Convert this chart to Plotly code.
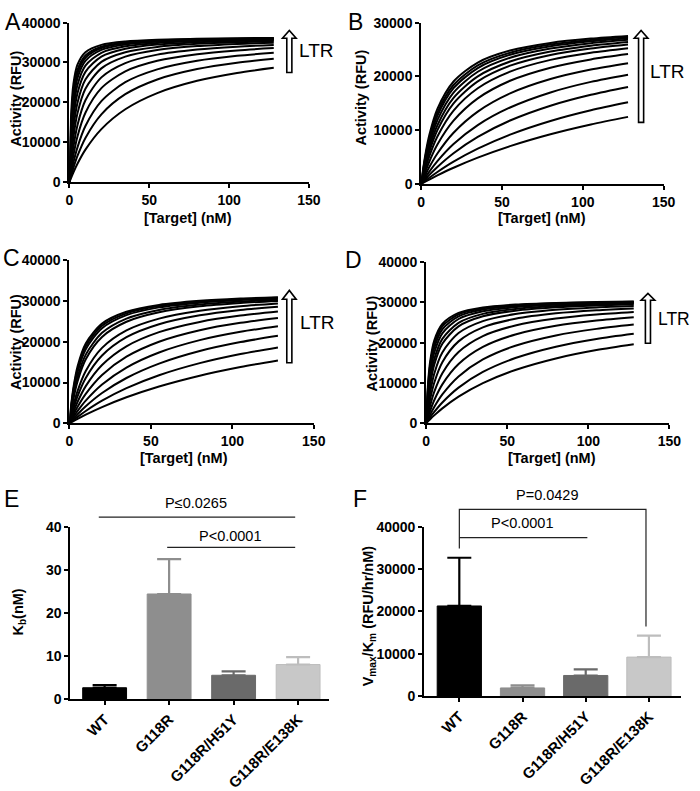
import plotly.graph_objects as go

W, H = 700, 791

# ---------------- data ----------------
TARGET_NM = [0, 1, 2.5, 5, 10, 20, 35, 55, 80, 105, 128]

# Activity (kRFU) at each TARGET_NM value, one list per LTR concentration
A_CURVES = [
    [0, 1.01, 2.43, 4.56, 8.11, 13.27, 18.25, 22.31, 25.39, 27.38, 28.66],
    [0, 1.52, 3.58, 6.52, 11.06, 16.98, 22.03, 25.74, 28.35, 29.94, 30.94],
    [0, 2.15, 4.93, 8.69, 14.04, 20.28, 25.05, 28.27, 30.42, 31.67, 32.44],
    [0, 3.04, 6.76, 11.41, 17.38, 23.55, 27.77, 30.42, 32.09, 33.04, 33.61],
    [0, 4.15, 8.86, 14.26, 20.51, 26.26, 29.85, 31.97, 33.26, 33.98, 34.40],
    [0, 5.53, 11.27, 17.22, 23.40, 28.52, 31.47, 33.13, 34.11, 34.65, 34.97],
    [0, 7.02, 13.62, 19.84, 25.70, 30.17, 32.59, 33.91, 34.68, 35.10, 35.34],
    [0, 8.69, 16.01, 22.26, 27.65, 31.47, 33.44, 34.49, 35.10, 35.42, 35.61],
    [0, 10.43, 18.25, 24.33, 29.20, 32.44, 34.07, 34.91, 35.39, 35.65, 35.80],
    [0, 12.17, 20.28, 26.07, 30.42, 33.18, 34.53, 35.22, 35.61, 35.82, 35.94],
    [0, 13.52, 21.73, 27.24, 31.20, 33.64, 34.81, 35.41, 35.74, 35.92, 36.02],
    [0, 14.60, 22.81, 28.08, 31.74, 33.95, 35.00, 35.53, 35.83, 35.99, 36.08],
    [0, 16.59, 24.66, 29.44, 32.59, 34.43, 35.29, 35.72, 35.96, 36.09, 36.16],
]
B_CURVES = [
    [0, 0.17, 0.41, 0.81, 1.58, 3.00, 4.88, 7.02, 9.23, 11.05, 12.47],
    [0, 0.24, 0.59, 1.15, 2.22, 4.14, 6.56, 9.17, 11.71, 13.70, 15.18],
    [0, 0.35, 0.86, 1.67, 3.16, 5.71, 8.75, 11.79, 14.55, 16.58, 18.03],
    [0, 0.48, 1.18, 2.27, 4.23, 7.41, 10.94, 14.22, 17.02, 18.98, 20.32],
    [0, 0.68, 1.65, 3.13, 5.66, 9.52, 13.46, 16.84, 19.51, 21.28, 22.46],
    [0, 0.94, 2.24, 4.17, 7.32, 11.76, 15.91, 19.19, 21.62, 23.16, 24.15],
    [0, 1.20, 2.83, 5.17, 8.82, 13.64, 17.80, 20.89, 23.08, 24.42, 25.26],
    [0, 1.43, 3.33, 6.00, 10.00, 15.00, 19.09, 22.00, 24.00, 25.20, 25.95],
    [0, 1.62, 3.75, 6.67, 10.91, 16.00, 20.00, 22.76, 24.62, 25.71, 26.39],
    [0, 1.84, 4.21, 7.39, 11.86, 17.00, 20.87, 23.47, 25.18, 26.18, 26.80],
    [0, 2.04, 4.63, 8.02, 12.66, 17.80, 21.56, 24.02, 25.61, 26.54, 27.10],
    [0, 2.21, 4.97, 8.52, 13.27, 18.40, 22.06, 24.41, 25.92, 26.79, 27.31],
    [0, 2.40, 5.36, 9.09, 13.95, 19.05, 22.58, 24.81, 26.23, 27.04, 27.53],
]
C_CURVES = [
    [0, 0.22, 0.56, 1.09, 2.12, 3.98, 6.38, 9.03, 11.68, 13.80, 15.42],
    [0, 0.33, 0.81, 1.59, 3.03, 5.55, 8.62, 11.79, 14.75, 16.99, 18.61],
    [0, 0.47, 1.15, 2.23, 4.18, 7.42, 11.11, 14.64, 17.72, 19.91, 21.44],
    [0, 0.65, 1.59, 3.03, 5.55, 9.50, 13.67, 17.37, 20.39, 22.43, 23.80],
    [0, 0.90, 2.16, 4.05, 7.22, 11.85, 16.34, 20.01, 22.82, 24.63, 25.80],
    [0, 1.21, 2.87, 5.29, 9.12, 14.29, 18.87, 22.35, 24.86, 26.41, 27.39],
    [0, 1.59, 3.72, 6.68, 11.11, 16.62, 21.12, 24.30, 26.48, 27.79, 28.60],
    [0, 1.98, 4.53, 7.97, 12.84, 18.49, 22.78, 25.67, 27.59, 28.71, 29.39],
    [0, 2.78, 6.16, 10.35, 15.70, 21.17, 24.89, 27.21, 28.67, 29.49, 29.99],
    [0, 3.16, 6.89, 11.37, 16.84, 22.18, 25.68, 27.80, 29.12, 29.85, 30.30],
    [0, 3.65, 7.81, 12.60, 18.16, 23.30, 26.52, 28.42, 29.58, 30.23, 30.61],
    [0, 3.96, 8.38, 13.32, 18.90, 23.90, 26.96, 28.74, 29.82, 30.41, 30.77],
    [0, 4.28, 8.93, 14.01, 19.58, 24.44, 27.34, 29.02, 30.02, 30.58, 30.91],
]
D_CURVES = [
    [0, 0.42, 1.02, 1.97, 3.71, 6.62, 9.98, 13.23, 16.10, 18.17, 19.61],
    [0, 0.61, 1.48, 2.82, 5.17, 8.85, 12.74, 16.19, 19.01, 20.92, 22.20],
    [0, 0.91, 2.17, 4.05, 7.16, 11.62, 15.85, 19.25, 21.81, 23.43, 24.49],
    [0, 1.35, 3.16, 5.73, 9.66, 14.70, 18.95, 22.03, 24.18, 25.48, 26.30],
    [0, 1.95, 4.45, 7.78, 12.42, 17.70, 21.65, 24.27, 25.99, 26.99, 27.61],
    [0, 2.73, 6.02, 10.07, 15.17, 20.33, 23.80, 25.94, 27.29, 28.05, 28.51],
    [0, 3.62, 7.70, 12.32, 17.60, 22.40, 25.36, 27.10, 28.16, 28.75, 29.09],
    [0, 4.67, 9.51, 14.53, 19.74, 24.06, 26.55, 27.95, 28.79, 29.24, 29.51],
    [0, 5.40, 10.69, 15.88, 20.95, 24.94, 27.15, 28.38, 29.09, 29.48, 29.71],
    [0, 6.42, 12.22, 17.50, 22.32, 25.88, 27.78, 28.81, 29.40, 29.72, 29.91],
    [0, 7.33, 13.51, 18.78, 23.33, 26.55, 28.22, 29.11, 29.61, 29.89, 30.05],
    [0, 8.11, 14.53, 19.74, 24.06, 27.02, 28.52, 29.31, 29.76, 30.00, 30.14],
    [0, 8.80, 15.40, 20.53, 24.64, 27.38, 28.75, 29.46, 29.87, 30.08, 30.21],
]

GROUPS = ["WT", "G118R", "G118R/H51Y", "G118R/E138K"]
KB_MEAN = [2.6, 24.4, 5.5, 8.0]
KB_ERR = [0.6, 8.1, 0.9, 1.7]
VK_MEAN = [21300, 1900, 4850, 9200]
VK_ERR = [11400, 600, 1450, 5100]
BAR_COLORS = ["#000000", "#8e8e8e", "#6a6a6a", "#c8c8c8"]
ERR_COLORS = ["#000000", "#8e8e8e", "#6a6a6a", "#bdbdbd"]

X_TICKS = [0, 50, 100, 150]
Y_TICKS_40K = [0, 10000, 20000, 30000, 40000]
Y_TICKS_30K = [0, 10000, 20000, 30000]
Y_TICKS_KB = [0, 10, 20, 30, 40]

# ---------------- helpers ----------------
FONT = "Liberation Sans, Arial, sans-serif"


def px(p):
    return p / W


def py(p):
    return 1 - p / H


fig = go.Figure()

panels = [
    ("x", "y", A_CURVES),
    ("x2", "y2", B_CURVES),
    ("x3", "y3", C_CURVES),
    ("x4", "y4", D_CURVES),
]
for xa, ya, curves in panels:
    for c in curves:
        fig.add_trace(go.Scatter(
            x=TARGET_NM, y=[v * 1000 for v in c], mode="lines",
            line=dict(color="black", width=2, shape="spline", smoothing=0.8),
            xaxis=xa, yaxis=ya, hoverinfo="skip", showlegend=False))

for i, g in enumerate(GROUPS):
    fig.add_trace(go.Bar(
        x=[g], y=[KB_MEAN[i]], width=0.68, xaxis="x5", yaxis="y5",
        marker=dict(color=BAR_COLORS[i], line=dict(color=ERR_COLORS[i], width=1)),
        error_y=dict(type="data", array=[KB_ERR[i]], arrayminus=[0],
                     symmetric=False, color=ERR_COLORS[i], thickness=2.2, width=12),
        showlegend=False))
    fig.add_trace(go.Bar(
        x=[g], y=[VK_MEAN[i]], width=0.70, xaxis="x6", yaxis="y6",
        marker=dict(color=BAR_COLORS[i], line=dict(color=ERR_COLORS[i], width=1)),
        error_y=dict(type="data", array=[VK_ERR[i]], arrayminus=[0],
                     symmetric=False, color=ERR_COLORS[i], thickness=2.2, width=12),
        showlegend=False))

tickfont = dict(family=FONT, size=14, color="black", weight="bold")
common = dict(showline=True, linewidth=2, linecolor="black", ticks="outside",
              ticklen=4, tickwidth=2, tickcolor="black", showgrid=False,
              zeroline=False, tickfont=tickfont, fixedrange=True)
catfont = dict(family=FONT, size=15, color="black", weight="bold")


def xdom(a, b):
    return [px(a), px(b)]


def ydom(bottom, top):
    return [py(bottom), py(top)]


layout = dict(
    width=W, height=H, autosize=False,
    margin=dict(l=0, r=0, t=0, b=0),
    paper_bgcolor="white", plot_bgcolor="white",
    barmode="overlay", showlegend=False,
)

line_axes = [
    ("xaxis", "yaxis", (67, 312), (178, 15), Y_TICKS_40K, "y", "x"),
    ("xaxis2", "yaxis2", (427, 675), (180, 15), Y_TICKS_30K, "y2", "x2"),
    ("xaxis3", "yaxis3", (67, 317), (425, 258), Y_TICKS_40K, "y3", "x3"),
    ("xaxis4", "yaxis4", (432, 681), (425, 260), Y_TICKS_40K, "y4", "x4"),
]
for xn, yn, xd, yd, yt, yid, xid in line_axes:
    layout[xn] = dict(domain=xdom(*xd), range=[0, 150], anchor=yid,
                      tickvals=X_TICKS, ticktext=[str(t) for t in X_TICKS], **common)
    layout[yn] = dict(domain=ydom(*yd), range=[0, yt[-1]], anchor=xid,
                      tickvals=yt, ticktext=[str(t) for t in yt], **common)

cat_common = dict(common, tickfont=catfont)
layout["xaxis5"] = dict(domain=xdom(68, 333), range=[-0.53, 3.485], anchor="y5",
                        type="category", tickangle=-45, **cat_common)
layout["yaxis5"] = dict(domain=ydom(707, 531), range=[0, 40], anchor="x5",
                        tickvals=Y_TICKS_KB, ticktext=[str(t) for t in Y_TICKS_KB], **common)
layout["xaxis6"] = dict(domain=xdom(430, 693), range=[-0.556, 3.51], anchor="y6",
                        type="category", tickangle=-45, **cat_common)
layout["yaxis6"] = dict(domain=ydom(704, 531), range=[0, 40000], anchor="x6",
                        tickvals=Y_TICKS_40K, ticktext=[str(t) for t in Y_TICKS_40K], **common)

fig.update_layout(**layout)

# ---------------- annotations ----------------
ann = []


def text(x, y, s, size=14, bold=False, angle=0, family=FONT, xanchor="center"):
    f = dict(family=family, size=size, color="black")
    if bold:
        f["weight"] = "bold"
    ann.append(dict(x=px(x), y=py(y), xref="paper", yref="paper", text=s,
                    showarrow=False, xanchor=xanchor, yanchor="middle",
                    textangle=angle, font=f))


# panel letters
for lab, x, y in [("A", 9, 14), ("B", 360, 14), ("C", 8, 256), ("D", 358, 258),
                  ("E", 8, 502), ("F", 364, 502)]:
    text(x, y, lab, size=23)

# axis titles
text(12, 93, "Activity (RFU)", size=14.5, bold=True, angle=-90)
text(365, 92, "Activity (RFU)", size=14.5, bold=True, angle=-90)
text(12, 342, "Activity (RFU)", size=14.5, bold=True, angle=-90)
text(377, 343, "Activity (RFU)", size=14.5, bold=True, angle=-90)
text(188, 215, "[Target] (nM)", size=14.5, bold=True)
text(551, 215, "[Target] (nM)", size=14.5, bold=True)
text(184, 460, "[Target] (nM)", size=14.5, bold=True)
text(561, 460, "[Target] (nM)", size=14.5, bold=True)
text(15, 618, "K<sub>b</sub>(nM)", size=14.5, bold=True, angle=-90)
text(373, 622, "V<sub>max</sub>/K<sub>m</sub> (RFU/hr/nM)", size=14.5, bold=True, angle=-90)

# LTR labels
for x, y, s in [(300, 43, 19), (659, 65, 19), (301, 322, 19), (667, 318, 17.5)]:
    text(x, y, "LTR", size=s, xanchor="left")

# p-values
text(197, 507, "P≤0.0265", size=14.5)
text(232, 540, "P<0.0001", size=14.5)
text(556, 498, "P=0.0429", size=14.5)
text(531, 527, "P<0.0001", size=14.5)

shapes = []


def seg(pts, width=1.2, color="#222222"):
    d = "M " + " L ".join(f"{px(a):.5f},{py(b):.5f}" for a, b in pts)
    shapes.append(dict(type="path", path=d, xref="paper", yref="paper",
                       line=dict(color=color, width=width)))


seg([(97, 521), (298, 521)])
seg([(167, 552), (298, 552)])
seg([(466, 553), (466, 513), (657, 513), (657, 633)])
seg([(466, 542), (597, 542)])


def hollow_arrow(cx, top, base, bottom, shw=2.6, hhw=7):
    pts = [(cx - shw, bottom), (cx - shw, base), (cx - hhw, base), (cx, top),
           (cx + hhw, base), (cx + shw, base), (cx + shw, bottom)]
    d = "M " + " L ".join(f"{px(a):.5f},{py(b):.5f}" for a, b in pts) + " Z"
    shapes.append(dict(type="path", path=d, xref="paper", yref="paper",
                       line=dict(color="black", width=1.6), fillcolor="white"))


hollow_arrow(292, 23, 31, 66)
hollow_arrow(652, 23, 31, 117)
hollow_arrow(292, 289, 298, 363)
hollow_arrow(659, 292, 299, 343)

fig.update_layout(annotations=ann, shapes=shapes)
fig.write_html(
    "out.html",
    config={"displayModeBar": False},
    post_script="document.body.style.margin='0';document.body.style.overflow='hidden';",
)
